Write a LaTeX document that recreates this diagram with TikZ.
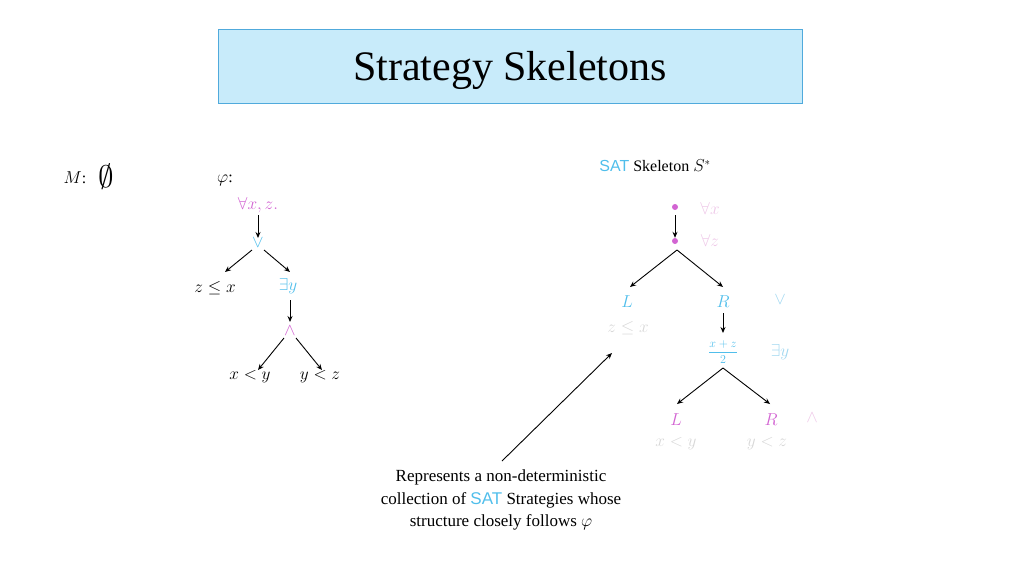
\documentclass[tikz,border=0pt]{standalone}
\usepackage{fontspec}
\setmainfont{Liberation Serif}
\newfontfamily\satfont{Liberation Sans}
\usetikzlibrary{arrows.meta}
\definecolor{cy}{RGB}{80,190,235}
\definecolor{mg}{RGB}{210,100,210}
\definecolor{fg}{RGB}{215,215,215}
\definecolor{fp}{RGB}{238,200,232}
\definecolor{fc}{RGB}{160,215,240}
\definecolor{tfill}{RGB}{200,235,250}
\definecolor{tbord}{RGB}{80,170,220}
\begin{document}
\begin{tikzpicture}[x=1pt,y=-1pt,
  lab/.style={inner sep=0pt,font=\fontsize{16}{19}\selectfont},
  arr/.style={-{Stealth[length=6pt,width=5pt]},line width=0.9pt},
  dotn/.style={circle,fill=mg,inner sep=0pt,minimum size=6pt}]
\useasboundingbox (0,0) rectangle (1024,576);
\node[draw=tbord,fill=tfill,line width=1pt,minimum width=584pt,minimum height=74pt] (title) at (510,66) {};
\node[inner sep=0pt,font=\fontsize{42}{46}\selectfont] (ttext) at (510,70) {Strategy Skeletons};
% left
\node[lab] (M) at (75,178) {$M$:};
\node[lab] (empty) at (106,177) {\scalebox{1.8}{$\emptyset$}};
\node[lab] (phi) at (225,180) {$\varphi$:};
\node[lab,text=mg] (fa) at (258,205) {$\forall x, z.$};
\node[lab,text=cy] (or) at (258,243) {$\vee$};
\node[lab] (zx) at (215,288) {$z \le x$};
\node[lab,text=cy] (ey) at (288,286) {$\exists y$};
\node[lab,text=mg] (and) at (290,331) {$\wedge$};
\node[lab] (xy) at (250,377) {$x < y$};
\node[lab] (yz) at (320,377) {$y < z$};
\draw[arr] (258,215) -- (or.north);
\draw[arr] (252,250) -- (225,272);
\draw[arr] (264,250) -- (290,272);
\draw[arr] (290,300) -- (290,322);
\draw[arr] (284,338) -- (258,370);
\draw[arr] (296,338) -- (322,370);
% right
\node[lab] (skel) at (655,166) {{\satfont\textcolor{cy}{SAT}} Skeleton $S^*$};
\node[dotn] (d1) at (675,207) {};
\node[dotn] (d2) at (675,241) {};
\node[lab,text=fp] (fx) at (710,208) {$\forall x$};
\node[lab,text=fp] (fz) at (710,240) {$\forall z$};
\draw[arr] (675,215) -- (d2.north);
\node[lab,text=cy] (L1) at (627,302) {$L$};
\node[lab,text=cy] (R1) at (723,302) {$R$};
\draw[arr] (677,250) -- (630,287);
\draw[arr] (677,250) -- (723,287);
\node[lab,text=fc] (orf) at (780,300) {$\vee$};
\node[lab,text=fg] (zx2) at (628,328) {$z \le x$};
\node[lab,text=cy,font=\fontsize{12}{14}\selectfont] (frac) at (723,352) {${\displaystyle\frac{x+z}{2}}$};
\node[lab,text=fc] (eyf) at (780,352) {$\exists y$};
\draw[arr] (723,313) -- (723,333);
\node[lab,text=mg] (L2) at (676,420) {$L$};
\node[lab,text=mg] (R2) at (771,420) {$R$};
\node[lab,text=fp] (andf) at (812,418) {$\wedge$};
\draw[arr] (723,368) -- (677,404);
\draw[arr] (723,368) -- (770,404);
\node[lab,text=fg] (xy2) at (676,444) {$x < y$};
\node[lab,text=fg] (yz2) at (767,444) {$y < z$};
% note
\node[lab,align=center,font=\fontsize{17}{22.5}\selectfont] (note) at (501,500)
  {Represents a non-deterministic\\collection of {\satfont\textcolor{cy}{SAT}} Strategies whose\\structure closely follows $\varphi$};
\coordinate (tip) at (612,353);
\draw[arr] (502,461) -- (tip);
\end{tikzpicture}
\end{document}
